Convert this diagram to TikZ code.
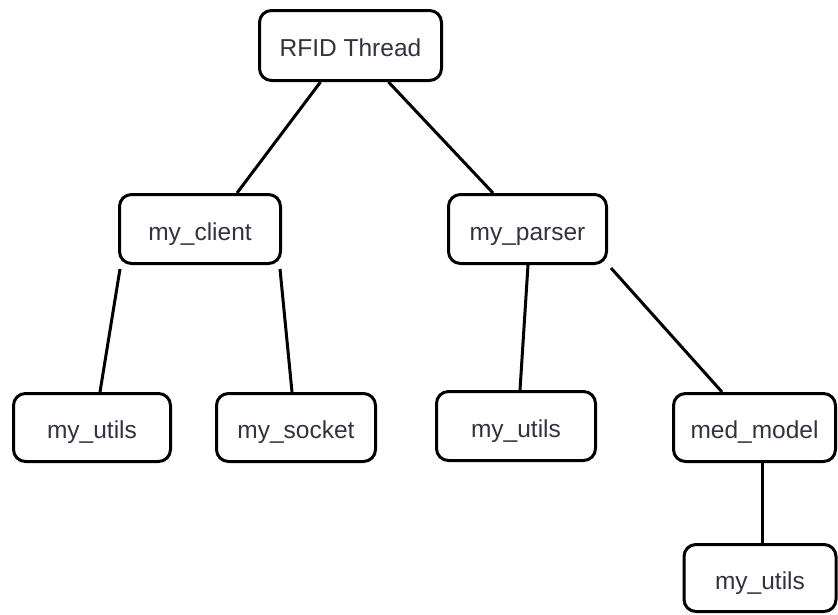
\documentclass[tikz,border=0pt]{standalone}
\usepackage{fontspec}
\setmainfont{Liberation Sans}
\definecolor{inkline}{HTML}{000000}
\definecolor{inktext}{HTML}{33333F}
\begin{document}
\begin{tikzpicture}[x=1pt,y=-1pt,
  modbox/.style={draw=inkline, line width=3pt, rounded corners=12pt, fill=white,
    inner sep=0pt, text=inktext, text height=22pt, text depth=0pt,
    font=\fontsize{24.5}{29}\selectfont},
  link/.style={draw=inkline, line width=3pt}]
\useasboundingbox (0,0) rectangle (838,614);

% module boxes
\node[modbox, minimum width=182pt, minimum height=70pt] (rfid)   at (350.5,45.5) {RFID Thread};
\node[modbox, minimum width=161pt, minimum height=69pt] (client) at (200,229)    {my\_client};
\node[modbox, minimum width=158pt, minimum height=69pt] (parser) at (527.5,229)  {my\_parser};
\node[modbox, minimum width=157pt, minimum height=68pt] (utilsA) at (92,427.5)   {my\_utils};
\node[modbox, minimum width=159pt, minimum height=68pt] (socket) at (296,427.5)  {my\_socket};
\node[modbox, minimum width=159pt, minimum height=69pt] (utilsB) at (516,426)    {my\_utils};
\node[modbox, minimum width=162pt, minimum height=68pt] (medmod) at (754.5,427.5){med\_model};
\node[modbox, minimum width=152pt, minimum height=67pt] (utilsC) at (760,578)    {my\_utils};

% dependency links
\draw[link] ([xshift=-30pt]rfid.south)   -- ([xshift=37pt]client.north);
\draw[link] ([xshift=38pt]rfid.south)    -- ([xshift=-34.5pt]parser.north);
\draw[link] ([shift={(-80,4)}]client.south) -- ([xshift=8pt]utilsA.north);
\draw[link] ([shift={(80,4)}]client.south)  -- ([xshift=-4pt]socket.north);
\draw[link] ([xshift=0.5pt]parser.south) -- ([xshift=4pt]utilsB.north);
\draw[link] ([shift={(3,3)}]parser.south east) -- ([xshift=-32.5pt]medmod.north);
\draw[link] ([xshift=7.5pt]medmod.south) -- ([xshift=2pt]utilsC.north);
\end{tikzpicture}
\end{document}
